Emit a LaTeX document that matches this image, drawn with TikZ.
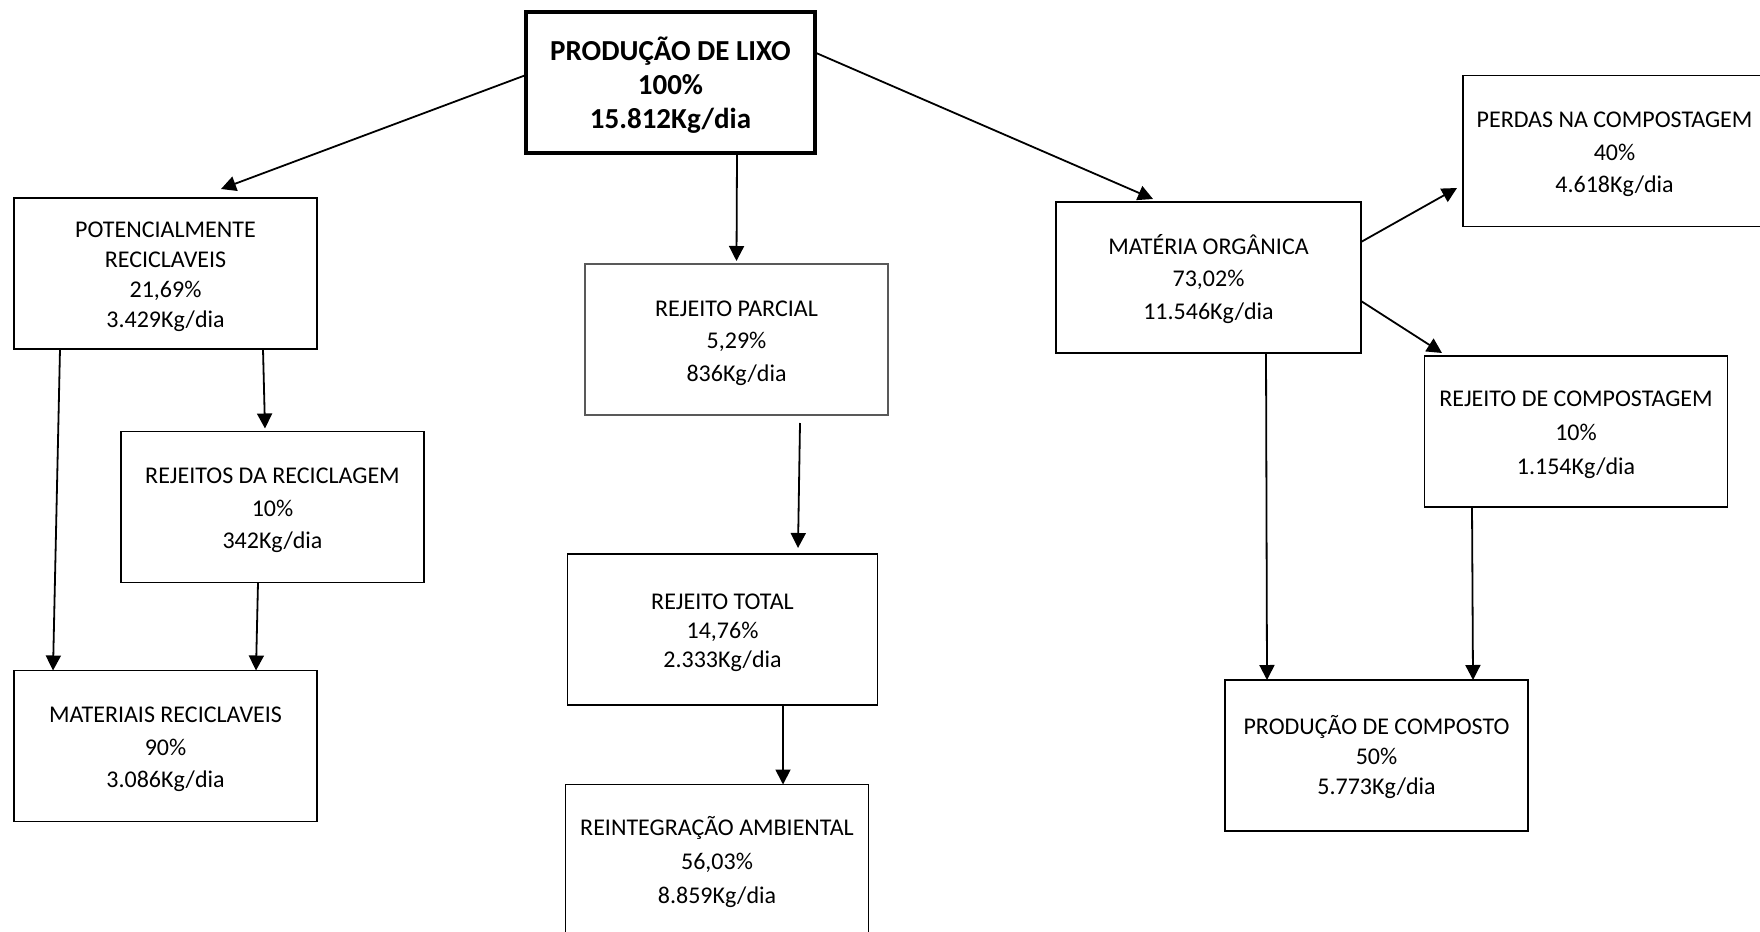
\documentclass[tikz,border=0pt]{standalone}
\usepackage{fontspec}
\setmainfont{Carlito}
\usepackage{tikz}
\usetikzlibrary{arrows.meta,positioning}

% taller first line, so that the text sits a little lower in its box
\newcommand{\firstln}[1][11.5pt]{\rule{0pt}{#1}}

\begin{document}
\begin{tikzpicture}[
      x=0.5pt, y=-0.5pt, line width=0.9pt,
      box/.style={draw, line width=0.9pt, align=center, inner sep=0pt, outer sep=0pt,
        font=\fontsize{12}{16.25}\selectfont, minimum width=151.5pt, minimum height=75.5pt},
      >={Triangle[length=7.5pt,width=7.5pt]}
    ]
    \clip (0,0) rectangle (1760,931);
    \fill[white] (0,0) rectangle (1760,931);

    \node[box, line width=2.4pt, minimum width=144.5pt, minimum height=70.5pt,
      font=\bfseries\fontsize{14.5}{17}\selectfont] (lixo) at (670.5,82.5)
      {\firstln[14.8pt]PRODUÇÃO DE LIXO\\100\%\\15.812Kg/dia};

    \node[box, font=\fontsize{12}{15}\selectfont] (pot) at (165.5,273.5)
      {\firstln POTENCIALMENTE\\RECICLAVEIS\\21,69\%\\3.429Kg/dia};
    \node[box] (rejrec) at (272.5,507) {\firstln REJEITOS DA RECICLAGEM\\10\%\\342Kg/dia};
    \node[box] (matrec) at (165.5,746) {\firstln MATERIAIS RECICLAVEIS\\90\%\\3.086Kg/dia};

    \node[box, draw=black!65, line width=0.6pt] (rejpar) at (736.5,339.5) {\firstln REJEITO PARCIAL\\5,29\%\\836Kg/dia};
    \node[box, minimum width=155pt, font=\fontsize{12}{14.5}\selectfont] (rejtot) at (722.5,629.5)
      {\firstln REJEITO TOTAL\\14,76\%\\2.333Kg/dia};
    \node[box, font=\fontsize{12}{17}\selectfont] (reint) at (717,860)
      {\firstln REINTEGRAÇÃO AMBIENTAL\\56,03\%\\8.859Kg/dia};

    \node[box, minimum width=152.5pt] (mo) at (1208.5,277.5) {\firstln MATÉRIA ORGÂNICA\\73,02\%\\11.546Kg/dia};
    \node[box] (perdas) at (1614.5,151) {\firstln PERDAS NA COMPOSTAGEM\\40\%\\4.618Kg/dia};
    \node[box, font=\fontsize{12}{17}\selectfont] (rejcomp) at (1576,431.5) {\firstln REJEITO DE COMPOSTAGEM\\10\%\\1.154Kg/dia};
    \node[box, font=\fontsize{12}{15}\selectfont] (prodcomp) at (1376.5,755.5)
      {\firstln PRODUÇÃO DE COMPOSTO\\50\%\\5.773Kg/dia};

    \draw[->] ([yshift=3.75pt]lixo.west) -- ([xshift=27.75pt,yshift=4.5pt]pot.north);
    \draw[->] ([yshift=15pt]lixo.east) -- ([xshift=-27.75pt,yshift=1.5pt]mo.north);
    \draw[->] ([xshift=33.25pt]lixo.south) -- ([yshift=1.5pt]rejpar.north);

    \draw[->] ([xshift=-52.75pt]pot.south) -- ([xshift=-56.25pt]matrec.north);
    \draw[->] ([xshift=48.75pt]pot.south) -- ([xshift=-3.75pt,yshift=1.5pt]rejrec.north);
    \draw[->] ([xshift=-7.25pt]rejrec.south) -- ([xshift=45.25pt]matrec.north);

    \draw[->] ([xshift=31.75pt,yshift=-4pt]rejpar.south) -- ([xshift=37.75pt,yshift=3pt]rejtot.north);
    \draw[->] ([xshift=30.25pt]rejtot.south) -- ([xshift=33pt]reint.north);

    \draw[->] ([yshift=17.75pt]mo.east) -- ([xshift=-3pt,yshift=-18.5pt]perdas.west);
    \draw[->] ([yshift=-11.75pt]mo.east) -- ([xshift=-67pt,yshift=1.5pt]rejcomp.north);
    \draw[->] ([xshift=28.75pt]mo.south) -- ([xshift=-54.75pt]prodcomp.north);
    \draw[->] ([xshift=-52pt]rejcomp.south) -- ([xshift=48.25pt]prodcomp.north);
  \end{tikzpicture}
\end{document}
